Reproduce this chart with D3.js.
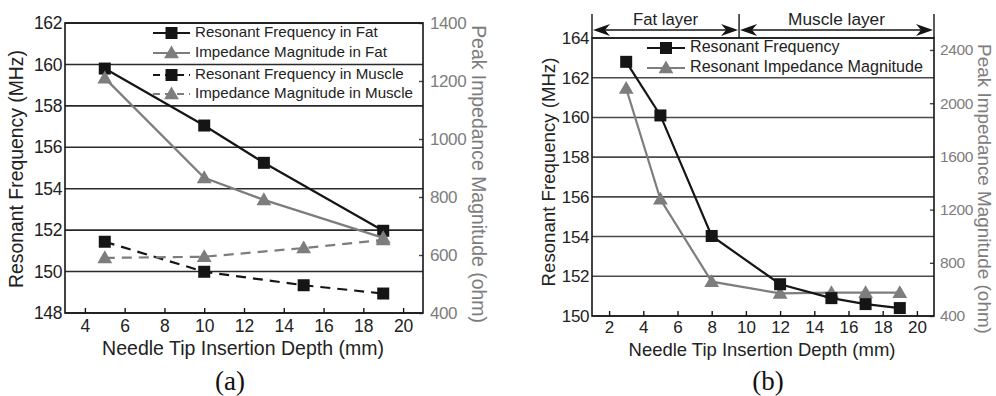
<!DOCTYPE html>
<html><head><meta charset="utf-8">
<script src="https://cdn.jsdelivr.net/npm/d3@7"></script>
<style>body{margin:0;background:#fff}svg{display:block}</style></head>
<body><svg id="c" width="996" height="396"></svg>
<script>
// ---------- Data: panel (a) ----------
const depthFatFreqA = [5, 10, 13, 19];
const fatFreqA      = [159.8, 157.05, 155.25, 151.97];
const depthFatImpA  = [5, 10, 13, 19];
const fatImpA       = [1210, 866, 790, 659];
const depthMusFreqA = [5, 10, 15, 19];
const musFreqA      = [151.44, 149.99, 149.34, 148.94];
const depthMusImpA  = [5, 10, 15, 19];
const musImpA       = [590, 594, 624, 652];
const xTicksA  = [4, 6, 8, 10, 12, 14, 16, 18, 20];
const yTicksA  = [148, 150, 152, 154, 156, 158, 160, 162];
const y2TicksA = [400, 600, 800, 1000, 1200, 1400];
const legendA  = ["Resonant Frequency in Fat", "Impedance Magnitude in Fat",
                  "Resonant Frequency in Muscle", "Impedance Magnitude in Muscle"];

// ---------- Data: panel (b) ----------
const depthB   = [3, 5, 8, 12, 15, 17, 19];
const freqB    = [162.8, 160.1, 154.03, 151.6, 150.9, 150.6, 150.4];
const impB     = [2110, 1277, 658, 570, 575, 575, 575];
const xTicksB  = [2, 4, 6, 8, 10, 12, 14, 16, 18, 20];
const yTicksB  = [150, 152, 154, 156, 158, 160, 162, 164];
const y2TicksB = [400, 800, 1200, 1600, 2000, 2400];
const legendB  = ["Resonant Frequency", "Resonant Impedance Magnitude"];
const layerBoundary = 9.6;
const layerLabels = ["Fat layer", "Muscle layer"];

const BLACK = "#151515", GRAY = "#7d7d7d";
const FONT = "Arial, 'Liberation Sans', Helvetica, sans-serif";
const svg = d3.select("#c");

// scale a text's font size so its drawn width matches the width measured on the reference
function fit(sel, width) {
  const n = sel.node(), fs = parseFloat(sel.attr("font-size"));
  const w = n.getComputedTextLength();
  if (w > 0) sel.attr("font-size", (fs * width / w).toFixed(2));
  return sel;
}

function sq(g, x, y) {
  g.append("rect").attr("x", x - 6).attr("y", y - 6).attr("width", 12).attr("height", 12).attr("fill", BLACK);
}
function tri(g, x, y) {
  g.append("path").attr("d", d3.symbol(d3.symbolTriangle, 95)()).attr("transform", `translate(${x},${y + 1})`).attr("fill", GRAY);
}

function panel(cfg) {
  const g = svg.append("g");
  const x = d3.scaleLinear().domain(cfg.xDom).range([cfg.L, cfg.R]);
  const y = d3.scaleLinear().domain(cfg.yDom).range([cfg.B, cfg.T]);
  const y2 = d3.scaleLinear().domain(cfg.y2Dom).range([cfg.B, cfg.T]);

  g.append("g").selectAll("line").data(cfg.yTicks).join("line")
    .attr("x1", cfg.L).attr("x2", cfg.R).attr("y1", d => y(d)).attr("y2", d => y(d))
    .attr("stroke", cfg.grid).attr("stroke-width", 1.6);

  const xa = g.append("g").attr("transform", `translate(0,${cfg.B})`)
    .call(d3.axisBottom(x).tickValues(cfg.xTicks).tickSizeInner(-5).tickSizeOuter(0).tickPadding(cfg.xPad));
  xa.select(".domain").remove();
  xa.selectAll("line").attr("stroke", BLACK).attr("stroke-width", 1.4);
  xa.selectAll("text").attr("font-family", FONT).attr("font-size", cfg.tickFs).attr("fill", "#222").attr("dy", "0.72em");

  const ya = g.append("g").attr("transform", `translate(${cfg.L},0)`)
    .call(d3.axisLeft(y).tickValues(cfg.yTicks).tickSize(0).tickPadding(3));
  ya.select(".domain").remove();
  ya.selectAll("text").attr("font-family", FONT).attr("font-size", cfg.tickFs).attr("fill", "#222").attr("letter-spacing", -0.4);

  const y2a = g.append("g").attr("transform", `translate(${cfg.R},0)`)
    .call(d3.axisRight(y2).tickValues(cfg.y2Ticks).tickFormat(d3.format("d")).tickSizeInner(-4).tickSizeOuter(0).tickPadding(cfg.y2Pad));
  y2a.select(".domain").remove();
  y2a.selectAll("line").attr("stroke", "#444").attr("stroke-width", 1.4);
  y2a.selectAll("text").attr("font-family", FONT).attr("font-size", cfg.tick2Fs).attr("fill", GRAY).attr("letter-spacing", -0.4);

  g.append("rect").attr("x", cfg.L).attr("y", cfg.T).attr("width", cfg.R - cfg.L).attr("height", cfg.B - cfg.T)
    .attr("fill", "none").attr("stroke", BLACK).attr("stroke-width", 1.6);

  fit(g.append("text").attr("x", (cfg.L + cfg.R) / 2 - 1).attr("y", cfg.xTitleY).attr("text-anchor", "middle")
    .attr("font-family", FONT).attr("font-size", 19).attr("fill", "#222").text("Needle Tip Insertion Depth (mm)"), cfg.xTitleW);
  fit(g.append("text").attr("transform", `translate(${cfg.yTitleX},${cfg.yTitleY}) rotate(-90)`).attr("text-anchor", "middle")
    .attr("dominant-baseline", "middle").attr("font-family", FONT).attr("font-size", 19).attr("fill", "#222")
    .text("Resonant Frequency (MHz)"), cfg.yTitleW);
  fit(g.append("text").attr("transform", `translate(${cfg.y2TitleX},${cfg.y2TitleY}) rotate(90)`).attr("text-anchor", "middle")
    .attr("dominant-baseline", "middle").attr("font-family", FONT).attr("font-size", 19).attr("fill", GRAY)
    .text("Peak Impedance Magnitude (ohm)"), cfg.y2TitleW);
  g.append("text").attr("x", cfg.labelX).attr("y", 390).attr("text-anchor", "middle")
    .attr("font-family", "'Liberation Serif', 'Times New Roman', serif").attr("font-size", 27).attr("fill", "#111").text(cfg.label);
  return {g, x, y, y2};
}

function series(g, xs, ys, sx, sy, color, dashed, marker) {
  const pts = xs.map((d, i) => [sx(d), sy(ys[i])]);
  g.append("path").attr("d", d3.line()(pts)).attr("fill", "none").attr("stroke", color).attr("stroke-width", 2.2)
    .attr("stroke-dasharray", dashed ? "10,7" : null);
  pts.forEach(p => marker(g, p[0], p[1]));
}

function legend(g, x1, x2, rows, fs, longest, longestW) {
  const texts = [];
  rows.forEach(r => {
    g.append("line").attr("x1", x1).attr("x2", x2).attr("y1", r.y).attr("y2", r.y).attr("stroke", r.color)
      .attr("stroke-width", 2.2).attr("stroke-dasharray", r.dashed ? "7,5" : null);
    r.marker(g, (x1 + x2) / 2, r.y);
    texts.push(g.append("text").attr("x", x2 + 5).attr("y", r.y).attr("dominant-baseline", "middle").attr("font-family", FONT)
      .attr("font-size", fs).attr("fill", "#222").text(r.text));
  });
  fit(texts[longest], longestW);
  const f = texts[longest].attr("font-size");
  texts.forEach(t => t.attr("font-size", f));
}

// ---------- Panel (a) ----------
const A = panel({L: 65, R: 423, T: 23, B: 313, xDom: [3, 21], yDom: [148, 162], y2Dom: [400, 1400],
  xTicks: xTicksA, yTicks: yTicksA, y2Ticks: y2TicksA, tickFs: 17.5, tick2Fs: 17,
  grid: "#2a2a2a", y2Pad: 7, xPad: 6,
  xTitleY: 355, xTitleW: 282, yTitleX: 18, yTitleY: 169, yTitleW: 238,
  y2TitleX: 477, y2TitleY: 174, y2TitleW: 298, labelX: 230, label: "(a)"});
series(A.g, depthMusFreqA, musFreqA, A.x, A.y, BLACK, true, sq);
series(A.g, depthMusImpA, musImpA, A.x, A.y2, GRAY, true, tri);
series(A.g, depthFatFreqA, fatFreqA, A.x, A.y, BLACK, false, sq);
series(A.g, depthFatImpA, fatImpA, A.x, A.y2, GRAY, false, tri);
legend(A.g, 153, 190, [
  {y: 33, color: BLACK, dashed: false, marker: sq, text: legendA[0]},
  {y: 53, color: GRAY, dashed: false, marker: tri, text: legendA[1]},
  {y: 75, color: BLACK, dashed: true, marker: sq, text: legendA[2]},
  {y: 94, color: GRAY, dashed: true, marker: tri, text: legendA[3]}], 15.2, 3, 218);

// ---------- Panel (b) ----------
const B = panel({L: 592, R: 934, T: 38, B: 316, xDom: [1, 21], yDom: [150, 164], y2Dom: [400, 2490],
  xTicks: xTicksB, yTicks: yTicksB, y2Ticks: y2TicksB, tickFs: 17, tick2Fs: 15.5,
  grid: "#4a4a4a", y2Pad: 6, xPad: 5,
  xTitleY: 356, xTitleW: 267, yTitleX: 550, yTitleY: 172, yTitleW: 229,
  y2TitleX: 983, y2TitleY: 189, y2TitleW: 290, labelX: 768, label: "(b)"});
series(B.g, depthB, impB, B.x, B.y2, GRAY, false, tri);
series(B.g, depthB, freqB, B.x, B.y, BLACK, false, sq);
legend(B.g, 647, 685, [
  {y: 48, color: BLACK, dashed: false, marker: sq, text: legendB[0]},
  {y: 68, color: GRAY, dashed: false, marker: tri, text: legendB[1]}], 16, 1, 233);

// layer annotation
const xb = B.x, xL = xb.domain()[0], xR = xb.domain()[1];
[xL, layerBoundary, xR].forEach(v => {
  B.g.append("line").attr("x1", xb(v)).attr("x2", xb(v)).attr("y1", 14).attr("y2", 38).attr("stroke", BLACK).attr("stroke-width", 1.4);
});
function arrowSpan(a, b, text, w) {
  const x1 = xb(a), x2 = xb(b), yy = 30;
  B.g.append("line").attr("x1", x1 + 10).attr("x2", x2 - 10).attr("y1", yy).attr("y2", yy).attr("stroke", BLACK).attr("stroke-width", 1.4);
  B.g.append("path").attr("d", `M${x1 + 1},${yy} L${x1 + 18},${yy - 6} L${x1 + 13},${yy} L${x1 + 18},${yy + 6} Z`).attr("fill", BLACK);
  B.g.append("path").attr("d", `M${x2 - 1},${yy} L${x2 - 18},${yy - 6} L${x2 - 13},${yy} L${x2 - 18},${yy + 6} Z`).attr("fill", BLACK);
  fit(B.g.append("text").attr("x", (x1 + x2) / 2).attr("y", 25).attr("text-anchor", "middle").attr("font-family", FONT)
    .attr("font-size", 17).attr("fill", "#222").text(text), w);
}
arrowSpan(xL, layerBoundary, layerLabels[0], 65);
arrowSpan(layerBoundary, xR, layerLabels[1], 97);
</script></body></html>
